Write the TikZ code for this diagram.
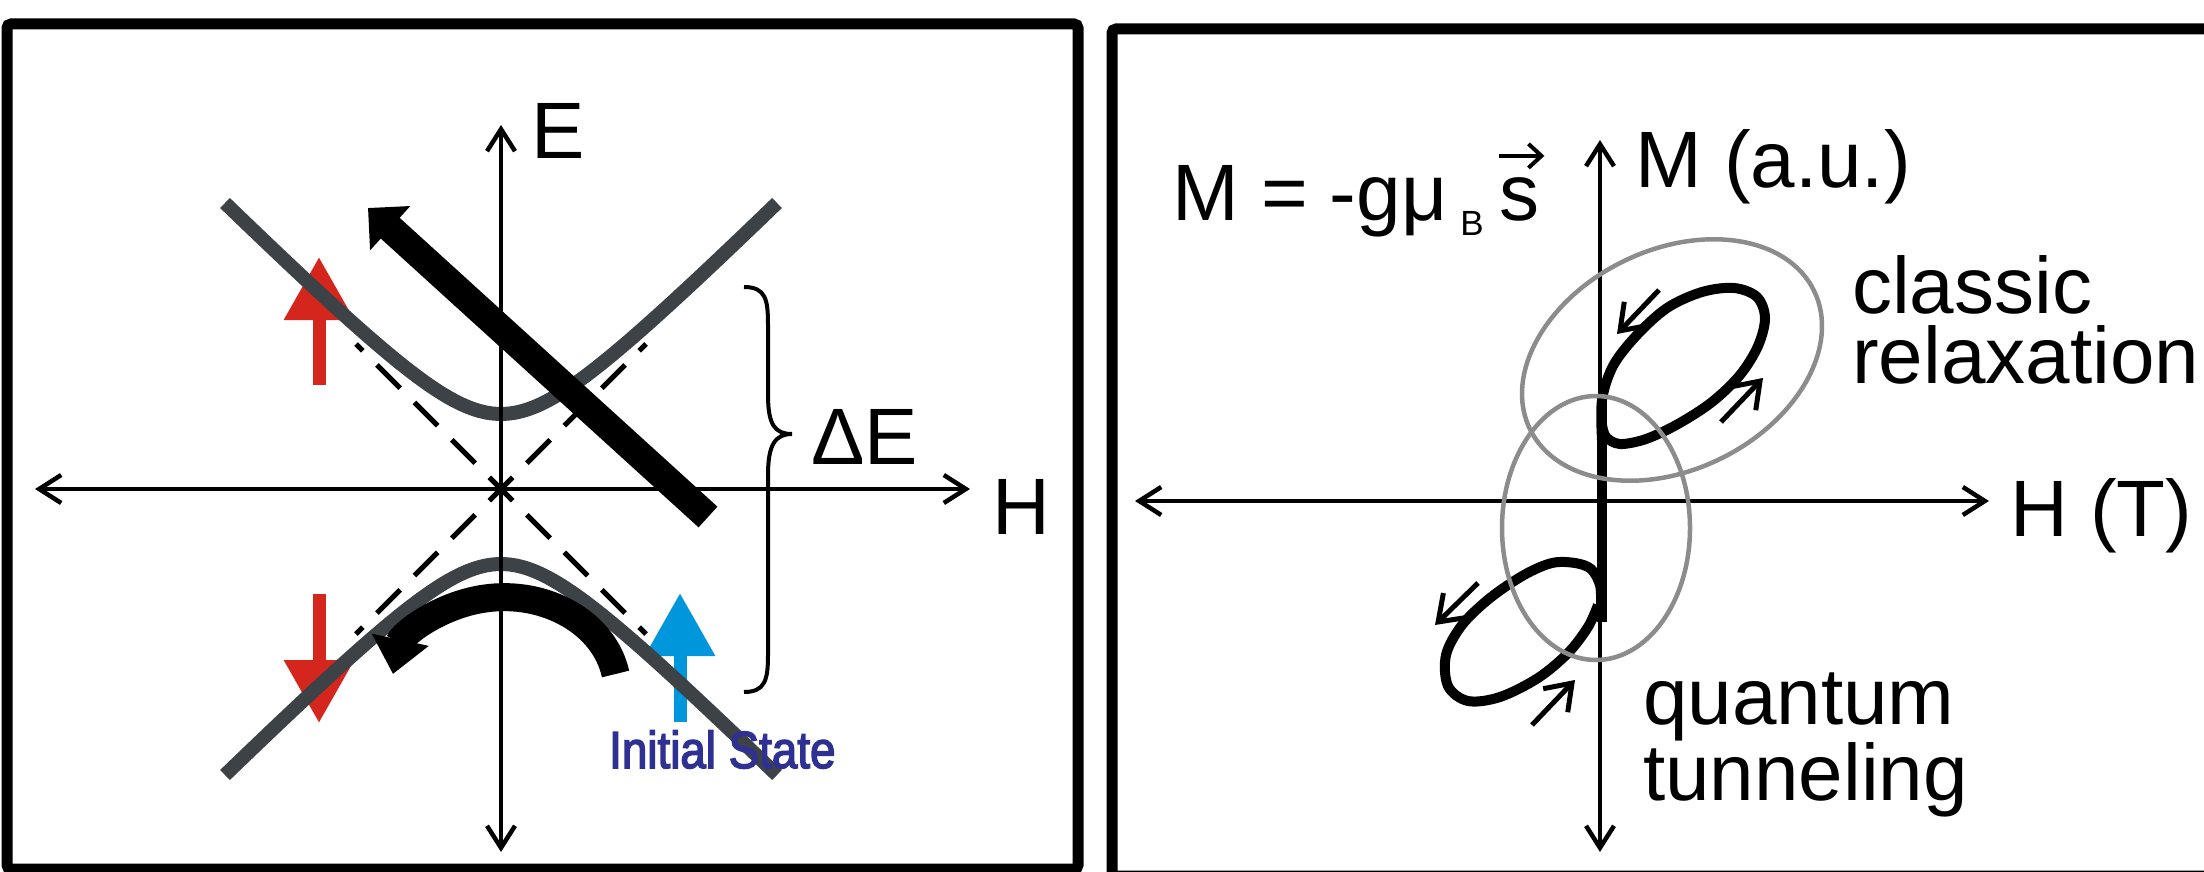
\documentclass[tikz,border=0pt]{standalone}
\usepackage{fontspec}
\usepackage{graphicx}
\setmainfont{Liberation Sans}
\newfontfamily\initfam[FakeBold=3]{Liberation Sans}
\usetikzlibrary{arrows.meta,calc}
\newcommand\bigfont{\fontsize{80pt}{70pt}\selectfont}
\newcommand\initfont{\initfam\fontsize{52pt}{60pt}\selectfont}
\newcommand\subfont{\fontsize{35pt}{40pt}\selectfont}
\definecolor{hypgray}{RGB}{60,66,70}
\definecolor{spinred}{RGB}{213,38,30}
\definecolor{spinblue}{RGB}{0,150,220}
\definecolor{labelblue}{RGB}{46,49,146}
\definecolor{ringgray}{RGB}{140,140,140}
\tikzset{
 frame/.style={line width=11pt, rounded corners=4pt},
 axis/.style={line width=4.5pt, {Straight Barb[length=22pt,width=28pt]}-{Straight Barb[length=22pt,width=28pt]}},
 asym/.style={line width=5pt, dash pattern=on 33pt off 20pt, dash phase=16.5pt},
 hyp/.style={line width=14pt, draw=hypgray},
 spinarrow/.style={line width=13pt, -{Triangle[length=63pt,width=67pt]}},
 bigarrow/.style={line width=28pt, -{Triangle[length=30pt,width=58pt]}},
 arcarrow/.style={line width=28pt, -{Triangle[length=35pt,width=56pt]}},
 bracestyle/.style={line width=4pt},
 lbl/.style={inner sep=0pt, anchor=base west, font=\bigfont},
 hloop/.style={line width=10pt, line join=round},
 ring/.style={line width=4.5pt, draw=ringgray},
 smallarrow/.style={line width=5pt, -{Straight Barb[length=24pt,width=34pt]}},
 vecarrow/.style={line width=4pt, -{Straight Barb[length=13pt,width=24pt]}},
}
\begin{document}
\begin{tikzpicture}[x=1pt,y=-1pt]
\useasboundingbox (0,0) rectangle (2204,872);
\fill[white] (0,0) rectangle (2204,872);
% ---------------- left panel ----------------
\coordinate (O) at (501,489);
\draw[frame] (7,24) rectangle (1078,869);
\foreach \dx/\dy in {-145/-145,145/-145,-145/145,145/145}
  \draw[asym] (O) -- ++(\dx,\dy);
\coordinate (ruS) at (319,385); \coordinate (ruE) at (319,257);
\coordinate (rdS) at (319,594); \coordinate (rdE) at (319,723);
\coordinate (buS) at (680,722); \coordinate (buE) at (680,593);
\draw[spinarrow, spinred] (ruS) -- (ruE);
\draw[spinarrow, spinred] (rdS) -- (rdE);
\draw[spinarrow, spinblue] (buS) -- (buE);
\draw[hyp] plot[domain=-276:276, samples=90, variable=\t] ({501+\t},{489-100*sqrt(0.5625+(\t/100)^2)});
\draw[hyp] plot[domain=-276:276, samples=90, variable=\t] ({501+\t},{489+100*sqrt(0.5625+(\t/100)^2)});
\coordinate (Hl) at (35,489); \coordinate (Hr) at (970,489);
\coordinate (Et) at (501,125); \coordinate (Eb) at (501,852);
\draw[axis] (Hl) -- (Hr);
\draw[axis] (Eb) -- (Et);
\draw[bracestyle] (744,287) .. controls (766,287) and (768,300) .. (768,325) -- (768,395)
  .. controls (768,425) and (775,434) .. (792,434)
  .. controls (775,434) and (768,445) .. (768,475) -- (768,655)
  .. controls (768,680) and (765,692) .. (744,692);
\coordinate (tS) at (708,517); \coordinate (tE) at (368,208);
\draw[bigarrow] (tS) -- (tE);
\coordinate (aS) at (615.5,674);
\draw[arcarrow] (aS) arc[start angle=-10, end angle=-170, x radius=113, y radius=93];
\node[lbl] (Elbl) at (531,159) {E};
\node[lbl] (Hlbl) at (992,534) {H};
\node[lbl] (dE) at (811,464) {ΔE};
\node[lbl, font=\initfont, text=labelblue] (init) at (609,768) {\scalebox{0.88}[1]{Initial State}};
% ---------------- right panel ----------------
\draw[frame] (1112,29) rectangle (2230,876);
\coordinate (Hl2) at (1135,501); \coordinate (Hr2) at (1989,501);
\coordinate (Mt) at (1600,140); \coordinate (Mb) at (1600,852);
\draw[axis] (Hl2) -- (Hr2);
\draw[axis] (Mb) -- (Mt);
\draw[hloop] (1602,398) -- (1602,622);
\draw[hloop] plot[smooth, tension=0.55] coordinates {(1602,440) (1602,400) (1613,366) (1636,336) (1667,308) (1702,292) (1734,288) (1757,297) (1765,318) (1758,346) (1740,375) (1712,402) (1678,424) (1646,439) (1620,444) (1606,437) (1602,425)};
\draw[hloop] plot[smooth, tension=0.55] coordinates {(1601,605) (1600,585) (1591,569) (1575,563) (1552,563) (1524,575) (1490,598) (1462,625) (1446,655) (1448,686) (1468,701) (1500,697) (1538,678) (1568,653) (1588,627) (1598,605)};
\draw[ring, rotate around={26:(1672,360)}] (1672,360) ellipse [x radius=158, y radius=110];
\draw[ring] (1596,528) ellipse [x radius=94, y radius=132];
\coordinate (ulS) at (1659,290); \coordinate (ulE) at (1617,334);
\coordinate (urS) at (1721,422); \coordinate (urE) at (1763,378);
\coordinate (llS) at (1478,583); \coordinate (llE) at (1435,625);
\coordinate (lrS) at (1532,725); \coordinate (lrE) at (1575,680);
\draw[smallarrow] (ulS) -- (ulE);
\draw[smallarrow] (urS) -- (urE);
\draw[smallarrow] (llS) -- (llE);
\draw[smallarrow] (lrS) -- (lrE);
\node[lbl] (Mlbl) at (1635,187) {M (a.u.)};
\node[lbl] (HTlbl) at (2010,536) {H (T)};
\node[lbl, align=left] (classic) at (1852,383) {classic\\relaxation};
\node[lbl, align=left] (quantum) at (1643,800) {quantum\\tunneling};
\node[lbl] (form) at (1172,220) {M = -gμ\raisebox{-15pt}{\subfont\hspace{13pt}B}};
\node[lbl] (forms) at (1499,220) {s};
\draw[vecarrow] ($(forms.north west)+(0,-21)$) -- ($(forms.north east)+(5,-21)$);
\end{tikzpicture}
\end{document}
